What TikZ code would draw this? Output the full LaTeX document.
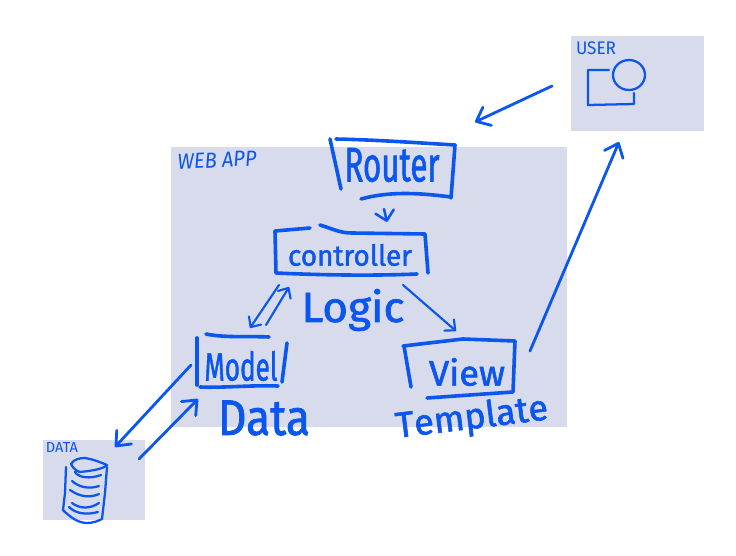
\documentclass[tikz,border=0pt]{standalone}
\usepackage{graphicx}
\usepackage{fontspec}
\setmainfont{Fira Sans}
\newfontfamily\handfont[FakeBold=1.6]{Fira Sans}
\newfontfamily\plainkernhand[FakeBold=1.6,Kerning=Off]{Fira Sans}
\newfontfamily\thinhand{Fira Sans}
\usetikzlibrary{arrows.meta}
\newdimen\pxu \pxu=0.75pt
\newcommand{\fitted}[3]{\resizebox*{#1\pxu}{#2\pxu}{\handfont #3}}
\newcommand{\fittedthin}[3]{\resizebox*{#1\pxu}{#2\pxu}{\thinhand #3}}
\definecolor{panel}{HTML}{D8DBEB}
\definecolor{ink}{HTML}{0A56EE}
\tikzset{
  panelbox/.style={fill=panel,draw=none,inner sep=0pt,anchor=center},
  sketchbox/.style={inner sep=0pt,text=ink,anchor=center},
  marktext/.style={inner sep=0pt,text=ink,anchor=center},
  pen/.style={draw=ink,line width=2.7pt,line cap=round,line join=round},
  thinpen/.style={draw=ink,line width=1.7pt,line cap=round,line join=round},
  bigarrow/.style={draw=ink,line width=2.1pt,line cap=round,line join=round,-{Straight Barb[length=9pt,width=15pt,round]}},
  smallarrow/.style={draw=ink,line width=1.9pt,line cap=round,line join=round,-{Straight Barb[length=7pt,width=14pt,round]}},
  midarrow/.style={draw=ink,line width=1.6pt,line cap=round,line join=round,-{Straight Barb[length=6pt,width=11pt,round]}}
}
\begin{document}
\begin{tikzpicture}[x=0.75pt,y=-0.75pt]
\useasboundingbox (0,0) rectangle (736,556);
% panels
\node[panelbox,minimum width=396*0.75pt,minimum height=280*0.75pt] (webapp) at (369,287) {};
\node[panelbox,minimum width=133*0.75pt,minimum height=95*0.75pt] (user) at (637.5,83.5) {};
\node[panelbox,minimum width=102*0.75pt,minimum height=80*0.75pt] (data) at (94,480) {};
% panel titles
\node[marktext,rotate=3] (webapptitle) at (217,160) {\fittedthin{79}{15}{\itshape WEB APP}};
\node[marktext] (usertitle) at (596,48) {\fittedthin{40}{13}{USER}};
\node[marktext] (datatitle) at (62,447) {\fittedthin{32}{10}{DATA}};
% boxes with labels
\node[sketchbox] (router) at (392,165) {\fitted{95}{34}{Router}};
\node[sketchbox] (controller) at (350,255) {\fitted{124}{22}{controller}};
\node[sketchbox] (model) at (241,366) {\fitted{73}{30}{Model}};
\node[sketchbox] (view) at (467,372) {\fitted{76}{28}{View}};
% free labels
\node[marktext] (logic) at (353,310) {\fitted{103}{42}{Logic}};
\node[marktext] (datalabel) at (264,418) {\fitted{92}{35}{Data}};
\node[marktext,rotate=7] (template) at (472,419) {\plainkernhand\fontsize{27}{27}\selectfont Template};
% router box
\draw[pen] (330,139) -- (341,189);
\draw[pen] (336,139) .. controls (380,140) and (420,143) .. (455,145) -- (451,198);
\draw[pen] (451,197) .. controls (420,193) and (390,191) .. (361,199);
% controller box
\draw[pen] (310,228) -- (275,231) -- (276,273) .. controls (320,275) and (370,276) .. (417,274);
\draw[pen] (320,225) .. controls (333,229) and (340,233) .. (352,233) -- (425,234) -- (428,273);
% model box
\draw[pen] (206,334) .. controls (225,338) and (250,336) .. (269,337);
\draw[pen] (197,338) -- (197,385);
\draw[pen] (200,387) .. controls (225,388) and (250,385) .. (278,386);
\draw[pen] (287,343) -- (282,382);
% view box
\draw[pen] (404,346) -- (411,387);
\draw[pen] (403,346) -- (463,339) -- (515,341) -- (513,392) -- (427,398);
% connectors
\draw[smallarrow] ([shift={(-8,44)}]router.center) -- ([shift={(37,-33)}]controller.center);
\draw[midarrow] ([shift={(-71,30)}]controller.center) -- ([shift={(9,-38)}]model.center);
\draw[midarrow] ([shift={(25,-41)}]model.center) -- ([shift={(-61,32)}]controller.center);
\draw[midarrow] ([shift={(53,30)}]controller.center) -- ([shift={(-11,-41)}]view.center);
\draw[bigarrow] ([shift={(63,-21)}]view.center) -- ([shift={(-18.5,58.5)}]user.center);
\draw[bigarrow] ([shift={(-85.5,2.5)}]user.center) -- ([shift={(83,-43)}]router.center);
\draw[bigarrow] ([shift={(-50,-1)}]model.center) -- ([shift={(21,-33)}]data.center);
\draw[bigarrow] ([shift={(45,-21)}]data.center) -- ([shift={(-43,33)}]model.center);
% user icon
\draw[thinpen] (629,75) ellipse [x radius=16,y radius=15];
\draw[thinpen] (609,70) -- (588,70) -- (588,105) -- (634,104) -- (634,93);
% database icon
\draw[thinpen] (71,464) .. controls (74,459) and (80,458) .. (85,458) .. controls (92,459) and (100,462) .. (107,465) .. controls (104,469) and (90,471) .. (80,472) .. controls (76,471) and (73,468) .. (71,464) -- cycle;
\draw[thinpen] (66,467) -- (65,493) -- (63,510) .. controls (70,517) and (78,523) .. (87,523) .. controls (93,523) and (98,521) .. (102,519) -- (105,493) -- (107,467);
\draw[thinpen] (75,472) .. controls (79,478) and (90,479) .. (101,475);
\draw[thinpen] (72,481) .. controls (80,488) and (90,489) .. (99,486);
\draw[thinpen] (70,490) .. controls (80,497) and (90,498) .. (99,494);
\draw[thinpen] (72,503) .. controls (80,509) and (90,509) .. (99,503);
\draw[thinpen] (69,507) .. controls (76,514) and (87,515) .. (98,512);
\end{tikzpicture}
\end{document}
